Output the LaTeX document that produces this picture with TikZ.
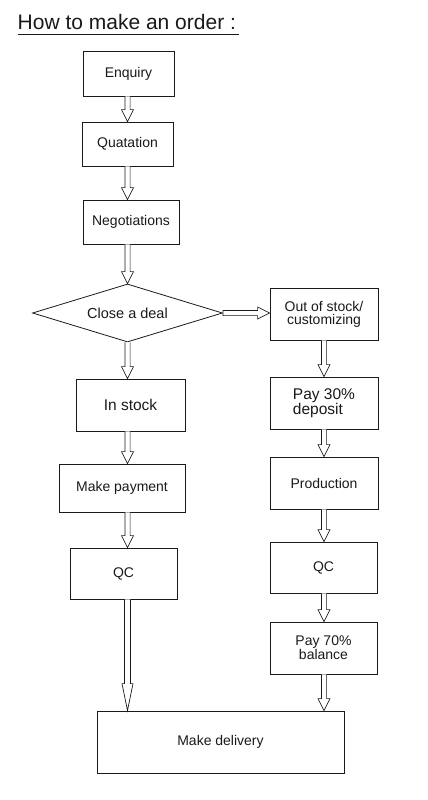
\documentclass[tikz,border=0pt]{standalone}
\usepackage{fontspec}
\setmainfont{Liberation Sans}
\usetikzlibrary{calc,shapes.geometric}
\definecolor{ink}{HTML}{1A1A1A}
\tikzset{
  box/.style={draw=ink, line width=0.8pt, rectangle, inner sep=0pt, align=center,
    font=\fontsize{14}{13}\selectfont, text=ink},
  blk/.style={draw=ink, line width=0.7pt, fill=white},
}
\newcommand{\vblock}[5]{\draw[blk] let \p1=(#1), \p2=(#2) in
  (\x1-#3,\y1) -- (\x1-#3,\y2+#5) -- (\x1-#4,\y2+#5) -- (\x1,\y2) --
  (\x1+#4,\y2+#5) -- (\x1+#3,\y2+#5) -- (\x1+#3,\y1);}
\begin{document}
\begin{tikzpicture}[x=1pt,y=-1pt]
\useasboundingbox[fill=white] (0,0) rectangle (428,800);
% title
\node[anchor=base west, inner sep=0pt, font=\fontsize{21}{24}\selectfont, text=ink] (title) at (17.5,29.5) {How to make an order :};
\draw[ink, line width=0.8pt] ([yshift=-5pt]title.base west) -- ([yshift=-5pt,xshift=3pt]title.base east);
% column coordinates
\coordinate (colL) at (127.5,0);
\coordinate (colR) at (324,0);
% left column
\node[box, minimum width=91pt, minimum height=45pt] (enq) at (128.5,73.5) {Enquiry};
\node[box, minimum width=91pt, minimum height=44pt] (quo) at (127.5,144) {Quatation};
\node[box, minimum width=96pt, minimum height=44pt] (neg) at (131,222) {Negotiations};
\node[draw=ink, line width=0.8pt, diamond, aspect=3.28, inner sep=0pt,
  minimum width=190pt, minimum height=58pt, font=\fontsize{14.5}{14}\selectfont, text=ink] (deal) at (127.5,313) {Close a deal};
\node[box, minimum width=109pt, minimum height=52pt, font=\fontsize{15.5}{14}\selectfont] (ins) at (130.5,405) {In stock};
\node[box, minimum width=126pt, minimum height=48pt] (pay) at (122,488) {Make payment};
\node[box, minimum width=107pt, minimum height=51pt] (qcl) at (123.5,573.5) {QC};
% right column
\node[box, minimum width=108pt, minimum height=52pt] (oos) at (324,314) {Out of stock/\\customizing};
\node[box, minimum width=108pt, minimum height=52pt, align=left, font=\fontsize{15.5}{14}\selectfont] (p30) at (324,403) {Pay 30\%\\deposit};
\node[box, minimum width=108pt, minimum height=52pt] (prod) at (324,483) {Production};
\node[box, minimum width=107pt, minimum height=51pt] (qcr) at (323.5,567.5) {QC};
\node[box, minimum width=107pt, minimum height=52pt] (p70) at (323.5,648) {Pay 70\%\\balance};
% delivery
\node[box, minimum width=247pt, minimum height=62pt] (del) at (220.5,742) {Make delivery};
% connectors, left
\vblock{enq.south -| colL}{quo.north -| colL}{2.6pt}{6pt}{12pt}
\vblock{quo.south -| colL}{neg.north -| colL}{2.6pt}{6pt}{12pt}
\vblock{neg.south -| colL}{deal.north}{2.6pt}{6pt}{12pt}
\vblock{deal.south}{ins.north -| colL}{2.6pt}{6pt}{12pt}
\vblock{ins.south -| colL}{pay.north -| colL}{2.6pt}{6pt}{12pt}
\vblock{pay.south -| colL}{qcl.north -| colL}{2.6pt}{6pt}{12pt}
\vblock{qcl.south -| colL}{del.north -| colL}{3pt}{5.5pt}{27pt}
% connectors, right
\vblock{oos.south -| colR}{p30.north -| colR}{2.6pt}{6pt}{12pt}
\vblock{p30.south -| colR}{prod.north -| colR}{2.6pt}{6pt}{12pt}
\vblock{prod.south -| colR}{qcr.north -| colR}{2.6pt}{6pt}{12pt}
\vblock{qcr.south -| colR}{p70.north -| colR}{2.6pt}{6pt}{12pt}
\vblock{p70.south -| colR}{del.north -| colR}{2.6pt}{6pt}{12pt}
% horizontal connector
\draw[blk] let \p1=(deal.east), \p2=(oos.west) in
  (\x1,\y1+2.6pt) -- (\x2-12pt,\y1+2.6pt) -- (\x2-12pt,\y1+6pt) -- (\x2,\y1) --
  (\x2-12pt,\y1-6pt) -- (\x2-12pt,\y1-2.6pt) -- (\x1,\y1-2.6pt) -- cycle;
\end{tikzpicture}
\end{document}
